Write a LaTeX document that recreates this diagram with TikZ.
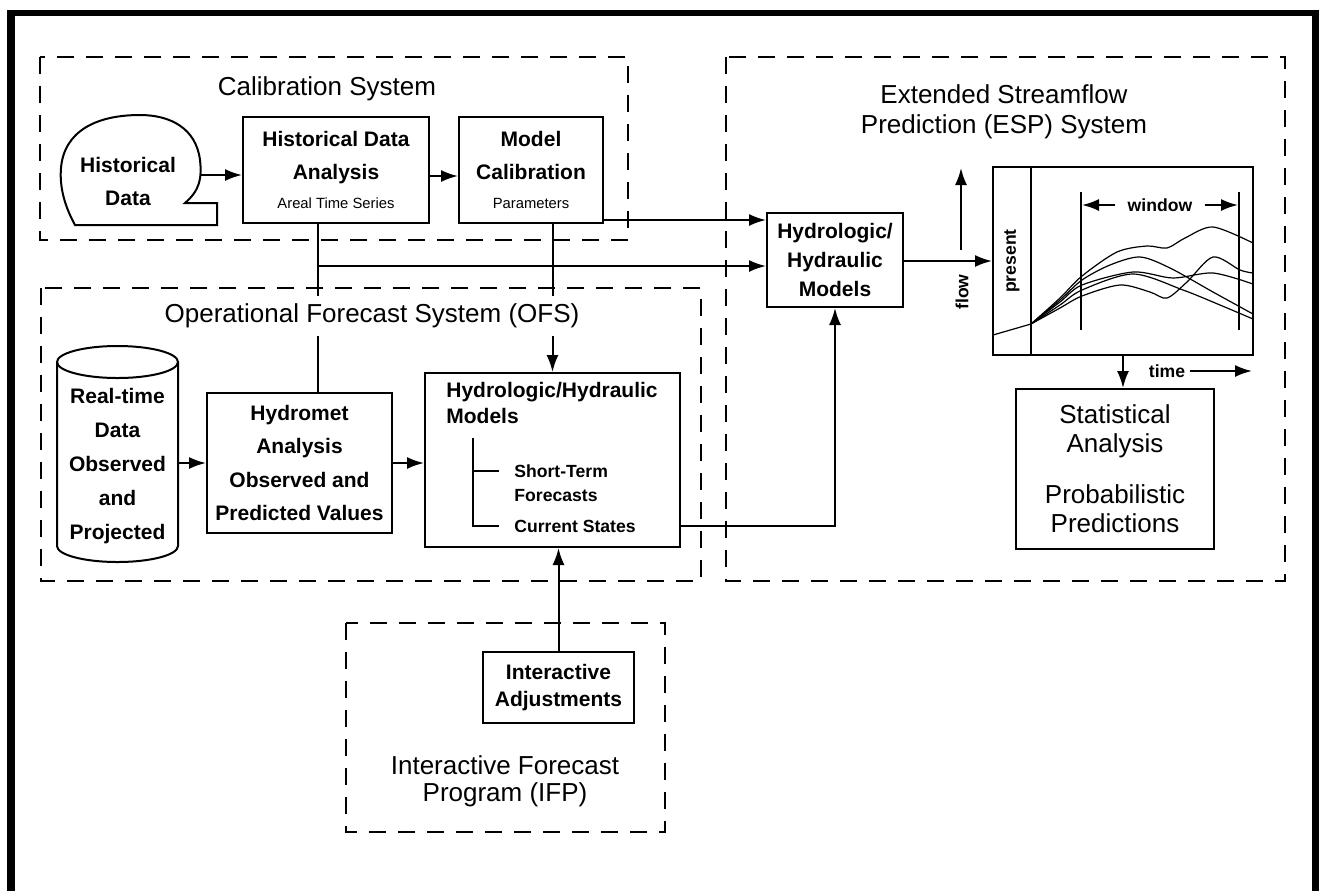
\documentclass[tikz,border=0pt]{standalone}
\usepackage{fontspec}
\setmainfont{Liberation Sans}
\usetikzlibrary{arrows.meta}
\tikzset{
    BX/.style ={rectangle, draw, line width=1pt, align=center, inner sep=0pt, font=\bfseries\fontsize{10.5}{16.5}\selectfont},
    LB/.style ={align=center, inner sep=1pt, font=\bfseries\fontsize{10.5}{16.5}\selectfont},
    TT/.style ={align=center, fill=white, inner sep=4pt, font=\fontsize{13}{15}\selectfont},
    SM/.style ={inner sep=1pt, font=\bfseries\fontsize{8.8}{12}\selectfont},
    DB/.style ={line width=1pt, dash pattern=on 8.5pt off 6pt},
    AR/.style ={line width=1pt, -{Latex[length=8.5pt,width=6pt]}},
    CV/.style ={line width=0.6pt}}

\begin{document}
\begin{tikzpicture}[x=0.5pt, y=-0.5pt]
    \useasboundingbox (0,0) rectangle (1319,891);
    % frame
    \fill (7,10) rectangle (1319,16);
    \fill (7,10) rectangle (15,891);
    \fill (1312,10) rectangle (1319,891);
    % system boxes
    \draw[DB] (40,57) rectangle (628,240);
    \draw[DB] (41,288) rectangle (701,581);
    \draw[DB] (726,57) rectangle (1285,581);
    \draw[DB] (346,623) rectangle (665,832);

    % calibration system
    \node[LB, minimum width=72pt] (hist) at (128,181) {Historical\\Data};
    \draw[line width=1pt] (75,225) -- (217,225) -- (217,203) -- (185,203)
        .. controls (200,190) and (202,178) .. (200,160)
        .. controls (196,128) and (170,115) .. (140,115)
        .. controls (95,115) and (64,132) .. (61,168)
        .. controls (59,192) and (68,212) .. (75,225) -- cycle;
    \node[BX, minimum width=93pt, minimum height=53pt] (hda) at (336,170)
        {Historical Data\\Analysis\\[-2pt]{\mdseries\fontsize{7.4}{9}\selectfont Areal Time Series}};
    \node[BX, minimum width=72pt, minimum height=53pt] (mc) at (531,170)
        {Model\\Calibration\\[-2pt]{\mdseries\fontsize{7.4}{9}\selectfont Parameters}};

    % operational forecast system
    \draw[line width=1pt] (57,362) -- (57,546) arc[start angle=180, end angle=360, x radius=30.25pt, y radius=8pt] -- (178,362);
    \draw[line width=1pt] (117.5,362) ellipse [x radius=30.25pt, y radius=8pt];
    \node[LB, font=\bfseries\fontsize{10.5}{17}\selectfont, minimum width=60.5pt] (rt) at (117.5,466)
        {Real-time\\Data\\Observed\\and\\Projected};
    \node[BX, font=\bfseries\fontsize{10.5}{16.8}\selectfont, minimum width=92.5pt, minimum height=70pt] (hm) at (299.5,463)
        {Hydromet\\Analysis\\Observed and\\Predicted Values};
    \node[BX, minimum width=127.5pt, minimum height=87pt] (ohh) at (552.5,460) {};
    \node[LB, align=left, anchor=north west, font=\bfseries\fontsize{10.5}{13}\selectfont] (ohht) at (444,380)
        {Hydrologic/Hydraulic\\Models};
    \draw[line width=1pt] (473,438) -- (473,526) -- (499,526);
    \draw[line width=1pt] (473,471) -- (499,471);
    \node[SM, align=left, anchor=west] (st) at (512,483) {Short-Term\\Forecasts};
    \node[SM, anchor=west] (cs) at (512,526) {Current States};

    % interactive forecast program
    \node[BX, font=\bfseries\fontsize{10.5}{13.5}\selectfont, minimum width=75.5pt, minimum height=35.5pt] (ia) at (558.5,687.5)
        {Interactive\\Adjustments};

    % ESP system
    \node[BX, font=\bfseries\fontsize{10.5}{14.5}\selectfont, minimum width=68pt, minimum height=47pt] (ehh) at (835,260)
        {Hydrologic/\\Hydraulic\\Models};
    \node[draw, line width=1pt, minimum width=130pt, minimum height=94pt] (graph) at (1123,261) {};
    \draw[line width=1pt] (1031,167) -- (1031,355);
    \draw[line width=1pt] (1081,192) -- (1081,330);
    \draw[line width=1pt] (1239,192) -- (1239,330);
    \node[SM, rotate=90] (pres) at (1012,261) {present};
    \node[SM] (win) at (1160,205) {window};
    \coordinate (wl) at (1082,205);
    \coordinate (wr) at (1238,205);
    \draw[AR] ([xshift=-5pt]win.west) -- (wl);
    \draw[AR] ([xshift=5pt]win.east) -- (wr);
    \draw[CV] (993,335) -- (1031,324);
    \draw[CV] plot[smooth] coordinates {(1031,324) (1060,298) (1082,276) (1117,252) (1147,246) (1167,248) (1185,238) (1213,227) (1253,243)};
    \draw[CV] plot[smooth] coordinates {(1031,324) (1060,300) (1082,280) (1110,265) (1140,257) (1170,268) (1213,292) (1253,314)};
    \draw[CV] plot[smooth] coordinates {(1031,324) (1060,302) (1082,285) (1133,272) (1173,278) (1213,273) (1253,284)};
    \draw[CV] plot[smooth] coordinates {(1031,324) (1060,305) (1082,290) (1133,274) (1183,290) (1220,305) (1253,319)};
    \draw[CV] plot[smooth] coordinates {(1031,324) (1060,308) (1082,296) (1120,285) (1150,292) (1167,298) (1187,282) (1213,257) (1240,270) (1253,273)};
    \node[SM, rotate=90] (flow) at (962,292) {flow};
    \coordinate (flowbot) at (961,250);
    \coordinate (flowtop) at (961,168);
    \draw[AR] (flowbot) -- (flowtop);
    \node[SM] (time) at (1167,371) {time};
    \coordinate (timeend) at (1252,371);
    \draw[AR] ([xshift=1pt]time.east) -- (timeend);
    \node[BX, font=\fontsize{13}{14.5}\selectfont, minimum width=99pt, minimum height=80pt] (stat) at (1115,469)
        {Statistical\\Analysis\\[11pt]Probabilistic\\Predictions};

    % connectors
    \coordinate (j1) at ([xshift=-9pt,yshift=-21pt]hda.south);
    \draw[AR] ([yshift=3pt]hist.east) -- ([yshift=-2.5pt]hda.west);
    \draw[AR] ([yshift=-3pt]hda.east) -- ([yshift=-3pt]mc.west);
    \draw[AR] ([yshift=-25pt]mc.east) -- ([yshift=20pt]ehh.west);
    \draw[line width=1pt] (hda.south -| j1) -- (hm.north -| j1);
    \draw[AR] (j1) -- (j1 -| ehh.west);
    \draw[AR] (mc.south -| ohh.north) -- (ohh.north);
    \draw[AR] (rt.east |- hm.west) -- (hm.west);
    \draw[AR] (hm.east) -- (hm.east -| ohh.west);
    \draw[AR] (cs -| ohh.east) -| (ehh.south);
    \draw[AR] (ia.north) -- (ia.north |- ohh.south);
    \draw[AR] (ehh.east |- graph.west) -- (graph.west);
    \draw[AR] (graph.south) -- (graph.south |- stat.north);

    % titles
    \node[TT] (calt) at (327,89) {Calibration System};
    \node[TT] (ofst) at (372,316) {Operational Forecast System (OFS)};
    \node[TT] (espt) at (1004,112) {Extended Streamflow\\Prediction (ESP) System};
    \node[TT, font=\fontsize{13}{13.5}\selectfont] (ifpt) at (505,781) {Interactive Forecast\\Program (IFP)};
\end{tikzpicture}
\end{document}
